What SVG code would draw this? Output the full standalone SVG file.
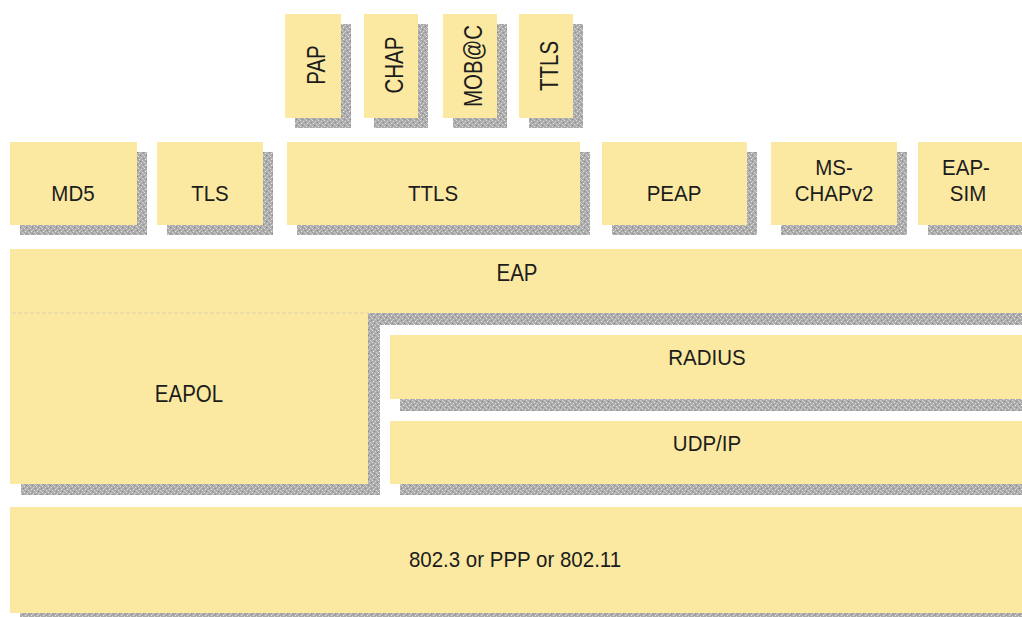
<svg xmlns="http://www.w3.org/2000/svg" width="1022" height="617" viewBox="0 0 1022 617">
<defs>
<pattern id="sh" width="6" height="6" patternUnits="userSpaceOnUse">
<rect width="6" height="6" fill="#ababab"/>
<rect x="0" y="0" width="1" height="1" fill="#e2e2e2"/>
<rect x="3" y="1" width="1" height="1" fill="#dadada"/>
<rect x="1" y="3" width="1" height="1" fill="#ececec"/>
<rect x="4" y="4" width="1" height="1" fill="#d6d6d6"/>
<rect x="2" y="5" width="1" height="1" fill="#8a8a8a"/>
<rect x="5" y="2" width="1" height="1" fill="#8e8e8e"/>
<rect x="2" y="2" width="1" height="1" fill="#c8c8c8"/>
<rect x="5" y="5" width="1" height="1" fill="#cfcfcf"/>
</pattern>
</defs>
<style>
.box{fill:#fbe9a1}
.shd{fill:url(#sh)}
.t{font-family:"Liberation Sans",Arial,sans-serif;font-size:20.5px;fill:#1c1c1c;text-anchor:middle}
</style>
<rect width="1022" height="617" fill="#ffffff"/>

<g id="pap">
<rect class="shd" x="295" y="24" width="56" height="104"/>
<rect class="box" x="285" y="14" width="56" height="104"/>
<text class="t" transform="translate(325,65) rotate(-90) scale(1,1.25)">PAP</text>
</g>
<g id="chap">
<rect class="shd" x="374" y="24" width="54" height="104"/>
<rect class="box" x="364" y="14" width="54" height="104"/>
<text class="t" transform="translate(403,65) rotate(-90) scale(1,1.25)">CHAP</text>
</g>
<g id="mobac">
<rect class="shd" x="453" y="24" width="54" height="104"/>
<rect class="box" x="443" y="14" width="54" height="104"/>
<text class="t" transform="translate(482,66) rotate(-90) scale(1,1.25)">MOB@C</text>
</g>
<g id="ttls-inner">
<rect class="shd" x="529" y="24" width="54" height="104"/>
<rect class="box" x="519" y="14" width="54" height="104"/>
<text class="t" transform="translate(558,66) rotate(-90) scale(1,1.25)">TTLS</text>
</g>

<g id="md5">
<rect class="shd" x="20" y="152" width="127" height="83"/>
<rect class="box" x="10" y="142" width="127" height="83"/>
<text class="t" transform="translate(73,201) scale(1,1.1)">MD5</text>
</g>
<g id="tls">
<rect class="shd" x="167" y="152" width="106" height="83"/>
<rect class="box" x="157" y="142" width="106" height="83"/>
<text class="t" transform="translate(210,201) scale(1,1.1)">TLS</text>
</g>
<g id="ttls">
<rect class="shd" x="297" y="152" width="293" height="83"/>
<rect class="box" x="287" y="142" width="293" height="83"/>
<text class="t" transform="translate(433,201) scale(1,1.1)">TTLS</text>
</g>
<g id="peap">
<rect class="shd" x="612" y="152" width="145" height="83"/>
<rect class="box" x="602" y="142" width="145" height="83"/>
<text class="t" transform="translate(674,201) scale(1,1.1)">PEAP</text>
</g>
<g id="mschapv2">
<rect class="shd" x="781" y="152" width="126" height="83"/>
<rect class="box" x="771" y="142" width="126" height="83"/>
<text class="t" transform="translate(834,175) scale(1,1.1)">MS-</text>
<text class="t" transform="translate(834,201) scale(1,1.1)">CHAPv2</text>
</g>
<g id="eapsim">
<rect class="shd" x="928" y="152" width="110" height="83"/>
<rect class="box" x="918" y="142" width="110" height="83"/>
<text class="t" transform="translate(966,175) scale(1,1.1)">EAP-</text>
<text class="t" transform="translate(968,201) scale(1,1.1)">SIM</text>
</g>

<g id="eap-eapol">
<path class="shd" d="M21,260 H1040 V325 H380 V495 H21 Z"/>
<path class="box" d="M10,249 H1030 V313 H368 V484 H10 Z"/>
<line x1="12" y1="313" x2="368" y2="313" stroke="#ddd2a8" stroke-width="1" stroke-dasharray="4,2"/>
<text id="eap" class="t" transform="translate(517,281) scale(1,1.15)">EAP</text>
<text id="eapol" class="t" transform="translate(189,402) scale(1,1.15)">EAPOL</text>
</g>

<g id="radius">
<rect class="shd" x="400" y="345" width="640" height="66"/>
<rect class="box" x="390" y="335" width="640" height="64"/>
<text class="t" transform="translate(707,365) scale(1,1.1)">RADIUS</text>
</g>
<g id="udpip">
<rect class="shd" x="400" y="431" width="640" height="64"/>
<rect class="box" x="390" y="421" width="640" height="63"/>
<text class="t" transform="translate(707,451) scale(1,1.1)">UDP/IP</text>
</g>
<g id="link">
<rect class="shd" x="20" y="517" width="1020" height="110"/>
<rect class="box" x="10" y="507" width="1020" height="106"/>
<text class="t" transform="translate(515,567) scale(1,1.1)">802.3 or PPP or 802.11</text>
</g>
</svg>
